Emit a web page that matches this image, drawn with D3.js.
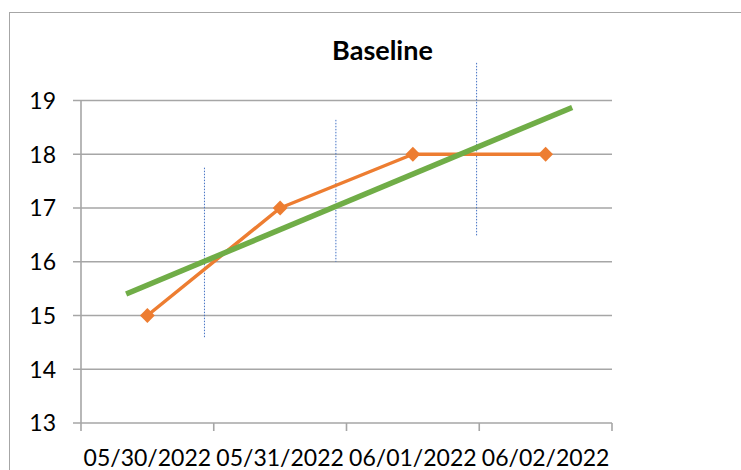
<!DOCTYPE html>
<html>
<head>
<meta charset="utf-8">
<script src="https://cdn.jsdelivr.net/npm/d3@7/dist/d3.min.js"></script>
<style>
  html, body { margin: 0; padding: 0; background: #fff; }
  svg { display: block; }
  text { font-family: Lato, "Open Sans", sans-serif; fill: #000; }
</style>
</head>
<body>
<svg id="chart" width="741" height="470"></svg>
<script>
// Category labels and the baseline series
const categories = ["05/30/2022", "05/31/2022", "06/01/2022", "06/02/2022"];
const baseline = [15, 17, 18, 18];
const yTicks = [13, 14, 15, 16, 17, 18, 19];

// Linear trend of the baseline (position on the category axis, value)
const trendPos = [0.34, 3.70];
const trendVal = [15.40, 18.87];

// Dotted range markers (position on the category axis, low, high)
const rangePos = [0.93, 1.92, 2.98];
const rangeLow = [14.57, 16.0, 16.48];
const rangeHigh = [17.75, 18.64, 19.70];

const svg = d3.select("#chart");

// chart frame
svg.append("rect")
  .attr("x", 9.5).attr("y", 12.5)
  .attr("width", 740).attr("height", 470)
  .attr("fill", "none").attr("stroke", "#a6a6a6").attr("stroke-width", 1);

const x = d3.scaleLinear().domain([0, categories.length]).range([81, 612]);
const y = d3.scaleLinear().domain([13, 19]).range([423, 100.5]);

// horizontal gridlines with outside tick stubs
svg.append("g")
  .selectAll("line")
  .data(yTicks)
  .join("line")
  .attr("x1", 73).attr("x2", x.range()[1])
  .attr("y1", d => y(d)).attr("y2", d => y(d))
  .attr("stroke", "#a6a6a6").attr("stroke-width", 1.6);

// vertical axis line
svg.append("line")
  .attr("x1", x(0)).attr("x2", x(0))
  .attr("y1", y(19)).attr("y2", y(13) + 8)
  .attr("stroke", "#a6a6a6").attr("stroke-width", 1.6);

// category boundary ticks under the axis
svg.append("g")
  .selectAll("line")
  .data(d3.range(1, categories.length + 1))
  .join("line")
  .attr("x1", d => x(d)).attr("x2", d => x(d))
  .attr("y1", y(13)).attr("y2", y(13) + 8)
  .attr("stroke", "#a6a6a6").attr("stroke-width", 1.6);

// y tick labels
svg.append("g")
  .selectAll("text")
  .data(yTicks)
  .join("text")
  .attr("x", 56).attr("y", d => y(d))
  .attr("dy", "0.36em")
  .attr("text-anchor", "end")
  .style("font-size", "23px")
  .text(d => d);

// category labels
svg.append("g")
  .selectAll("text")
  .data(categories)
  .join("text")
  .attr("x", (d, i) => x(i + 0.5))
  .attr("y", 466)
  .attr("text-anchor", "middle")
  .style("font-size", "23px")
  .text(d => d);

// title
svg.append("text")
  .attr("x", x(2.0) + 36).attr("y", 60)
  .attr("text-anchor", "middle")
  .style("font-size", "27px")
  .style("font-weight", "bold")
  .text("Baseline");

// dotted range markers
svg.append("g")
  .selectAll("line")
  .data(rangePos)
  .join("line")
  .attr("x1", d => x(d)).attr("x2", d => x(d))
  .attr("y1", (d, i) => y(rangeHigh[i]))
  .attr("y2", (d, i) => y(rangeLow[i]))
  .attr("stroke", "#4472c4").attr("stroke-width", 1)
  .attr("stroke-dasharray", "1.5,1.5");

// baseline series
const line = d3.line()
  .x((d, i) => x(i + 0.5))
  .y(d => y(d));

svg.append("path")
  .datum(baseline)
  .attr("d", line)
  .attr("fill", "none")
  .attr("stroke", "#ed7d31")
  .attr("stroke-width", 3.5)
  .attr("stroke-linejoin", "round");

// trend line
svg.append("line")
  .attr("x1", x(trendPos[0])).attr("y1", y(trendVal[0]))
  .attr("x2", x(trendPos[1])).attr("y2", y(trendVal[1]))
  .attr("stroke", "#70ad47").attr("stroke-width", 5.5);

// diamond markers
svg.append("g")
  .selectAll("path")
  .data(baseline)
  .join("path")
  .attr("transform", (d, i) => `translate(${x(i + 0.5)},${y(d)})`)
  .attr("d", d3.symbol(d3.symbolDiamond2, 140))
  .attr("fill", "#ed7d31");
</script>
</body>
</html>
